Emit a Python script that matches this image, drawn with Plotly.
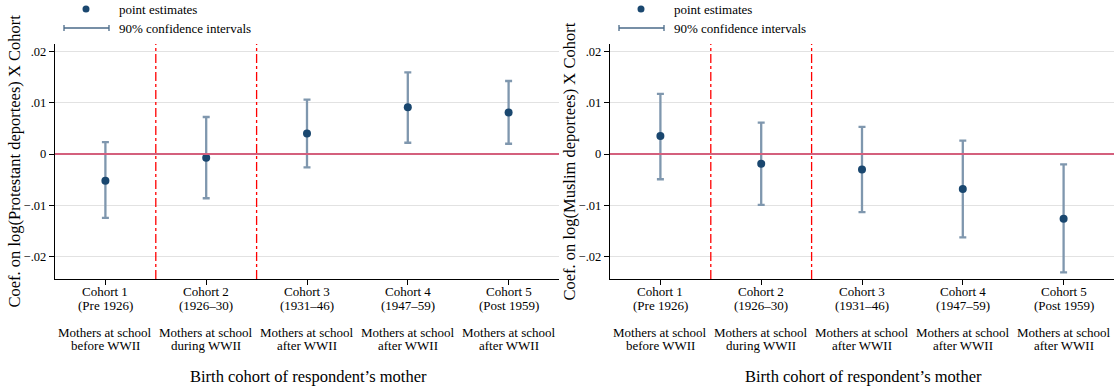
import plotly.graph_objects as go

# ---------------- data ----------------
cohorts = [1, 2, 3, 4, 5]
cohort_names = ["Cohort 1", "Cohort 2", "Cohort 3", "Cohort 4", "Cohort 5"]
cohort_years = ["(Pre 1926)", "(1926\u201330)", "(1931\u201346)", "(1947\u201359)", "(Post 1959)"]
school_line1 = ["Mothers at school"] * 5
school_line2 = ["before WWII", "during WWII", "after WWII", "after WWII", "after WWII"]

prot_est = [-0.0052, -0.0007, 0.0040, 0.0091, 0.0081]
prot_hi = [0.0023, 0.0072, 0.0106, 0.0159, 0.0142]
prot_lo = [-0.0124, -0.0086, -0.0026, 0.0022, 0.0020]

musl_est = [0.0035, -0.0019, -0.0030, -0.0068, -0.0126]
musl_hi = [0.0117, 0.0061, 0.0053, 0.0026, -0.0020]
musl_lo = [-0.0049, -0.0099, -0.0113, -0.0162, -0.0230]

y_tickvals = [-0.02, -0.01, 0, 0.01, 0.02]
y_ticktext = ["\u2212.02", "\u2212.01", "0", ".01", ".02"]
dividers = [1.5, 2.5]

y_titles = ["Coef. on log(Protestant deportees) X Cohort",
            "Coef. on log(Muslim deportees) X Cohort"]
x_title = "Birth cohort of respondent\u2019s mother"
legend_labels = ["point estimates", "90% confidence intervals"]

# ---------------- styling ----------------
W, H = 1116, 389
FONT = "Liberation Serif, Times New Roman, serif"
NAVY = "#1a476f"
BAR = "#7f97ae"
ZERO = "#d4607d"
GRID = "#e2e2e2"


def px_x(p):
    return p / W


def px_y(p):
    return 1 - p / H


plot_top, plot_bot = 44, 279
panels = [
    dict(x0=55, x1=559, est=prot_est, hi=prot_hi, lo=prot_lo, off=0),
    dict(x0=610, x1=1114, est=musl_est, hi=musl_hi, lo=musl_lo, off=555),
]

fig = go.Figure()
annotations = []
shapes = []

for i, p in enumerate(panels):
    xa = "x" if i == 0 else "x2"
    ya = "y" if i == 0 else "y2"
    err_plus = [h - e for h, e in zip(p["hi"], p["est"])]
    err_minus = [e - l for e, l in zip(p["est"], p["lo"])]
    fig.add_trace(go.Scatter(
        x=cohorts, y=p["est"], mode="markers", xaxis=xa, yaxis=ya,
        marker=dict(color=NAVY, size=8),
        error_y=dict(type="data", symmetric=False, array=err_plus, arrayminus=err_minus,
                     color=BAR, thickness=2.3, width=3.5),
        showlegend=False,
    ))
    # zero line
    shapes.append(dict(type="line", xref=f"{xa} domain", yref=ya, x0=0, x1=1, y0=0, y1=0,
                       line=dict(color=ZERO, width=2), layer="above"))
    # dividers
    for d in dividers:
        shapes.append(dict(type="line", xref=xa, yref=f"{ya} domain", x0=d, x1=d, y0=0, y1=1,
                           line=dict(color="#ff0000", width=1.3, dash="dashdot"), layer="above"))
    # y title
    annotations.append(dict(text=y_titles[i], xref="paper", yref="paper",
                            x=px_x(14 + p["off"]), y=px_y((plot_top + plot_bot) / 2),
                            textangle=-90, showarrow=False, xanchor="center", yanchor="middle",
                            font=dict(family=FONT, size=16.5, color="#000")))
    # x title
    annotations.append(dict(text=x_title, xref="paper", yref="paper",
                            x=px_x((p["x0"] + p["x1"]) / 2 + 1), y=px_y(376),
                            showarrow=False, xanchor="center", yanchor="middle",
                            font=dict(family=FONT, size=16.5, color="#000")))
    # category labels
    line_ys = [291.5, 305, 332, 345]
    for k, c in enumerate(cohorts):
        texts = [cohort_names[k], cohort_years[k], school_line1[k], school_line2[k]]
        for t, yy in zip(texts, line_ys):
            annotations.append(dict(text=t, xref=xa, yref="paper", x=c, y=px_y(yy),
                                    showarrow=False, xanchor="center", yanchor="middle",
                                    font=dict(family=FONT, size=13, color="#000")))
    # legend
    off = p["off"]
    shapes.append(dict(type="circle", xref="paper", yref="paper",
                       x0=px_x(82.5 + off), x1=px_x(89.5 + off), y0=px_y(12.5), y1=px_y(5.5),
                       fillcolor=NAVY, line=dict(color=NAVY, width=0)))
    shapes.append(dict(type="line", xref="paper", yref="paper",
                       x0=px_x(64 + off), x1=px_x(109 + off), y0=px_y(28), y1=px_y(28),
                       line=dict(color="#4a6a88", width=1.3)))
    for xx in (64, 109):
        shapes.append(dict(type="line", xref="paper", yref="paper",
                           x0=px_x(xx + off), x1=px_x(xx + off), y0=px_y(25), y1=px_y(31),
                           line=dict(color="#4a6a88", width=1.3)))
    for t, yy in zip(legend_labels, [9, 28]):
        annotations.append(dict(text=t, xref="paper", yref="paper",
                                x=px_x(117 + off), y=px_y(yy), showarrow=False,
                                xanchor="left", yanchor="middle",
                                font=dict(family=FONT, size=13, color="#000")))

common_x = dict(range=[0.5, 5.5], tickvals=cohorts, ticktext=[""] * 5, ticks="outside",
                ticklen=5, tickcolor="#000", showgrid=False, zeroline=False,
                showline=True, linecolor="#000", linewidth=1.2, fixedrange=True)
common_y = dict(range=[-0.0243, 0.0214], tickvals=y_tickvals, ticktext=y_ticktext,
                ticks="outside", ticklen=5, tickcolor="#000", showgrid=True, gridcolor=GRID,
                gridwidth=1, zeroline=False, showline=True, linecolor="#000", linewidth=1.2,
                tickfont=dict(family=FONT, size=12.5, color="#000"), fixedrange=True)

dom_y = [px_y(plot_bot), px_y(plot_top)]
fig.update_layout(
    width=W, height=H,
    margin=dict(l=0, r=0, t=0, b=0),
    paper_bgcolor="white", plot_bgcolor="white",
    xaxis=dict(domain=[px_x(panels[0]["x0"]), px_x(panels[0]["x1"])], anchor="y", **common_x),
    yaxis=dict(domain=dom_y, anchor="x", **common_y),
    xaxis2=dict(domain=[px_x(panels[1]["x0"]), px_x(panels[1]["x1"])], anchor="y2", **common_x),
    yaxis2=dict(domain=dom_y, anchor="x2", **common_y),
    shapes=shapes, annotations=annotations,
    showlegend=False,
    hovermode=False,
    font=dict(family=FONT, color="#000"),
)

fig.write_html("out.html",
               config={"displayModeBar": False, "staticPlot": True},
               post_script="document.body.style.margin='0';document.body.style.overflow='hidden';")
